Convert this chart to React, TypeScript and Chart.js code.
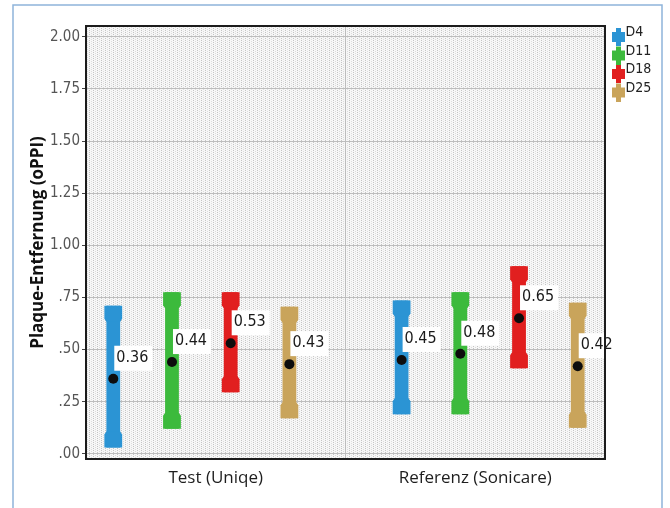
import React, { useEffect, useRef } from 'react';
import { Chart, registerables } from 'chart.js';

Chart.register(...registerables);

const categories = ['Test (Uniqe)', 'Referenz (Sonicare)'];
const seriesNames = ['D4', 'D11', 'D18', 'D25'];
const seriesColors = ['#2b94d4', '#3cba3c', '#e11f1f', '#c9a45b'];

const lowD4 = [0.03, 0.19];
const highD4 = [0.71, 0.735];
const meanD4 = [0.36, 0.45];
const lowD11 = [0.12, 0.19];
const highD11 = [0.775, 0.775];
const meanD11 = [0.44, 0.48];
const lowD18 = [0.295, 0.41];
const highD18 = [0.775, 0.9];
const meanD18 = [0.53, 0.65];
const lowD25 = [0.17, 0.125];
const highD25 = [0.705, 0.725];
const meanD25 = [0.43, 0.42];

const yTicks = [0, 0.25, 0.5, 0.75, 1, 1.25, 1.5, 1.75, 2];
const yTitle = 'Plaque-Entfernung (oPPI)';

const lows = [lowD4, lowD11, lowD18, lowD25];
const highs = [highD4, highD11, highD18, highD25];
const means = [meanD4, meanD11, meanD18, meanD25];

const NARROW = '"Liberation Sans Narrow", "Arial Narrow", "DejaVu Sans Condensed", "Liberation Sans", sans-serif';

function makeIcon(color: string) {
  const c = document.createElement('canvas');
  c.width = 22;
  c.height = 27;
  const g = c.getContext('2d')!;
  g.fillStyle = color;
  g.fillRect(13, 9, 5, 18);
  g.fillRect(9, 13, 13, 10);
  return c;
}

function makePattern() {
  const c = document.createElement('canvas');
  c.width = 4;
  c.height = 2;
  const g = c.getContext('2d')!;
  g.fillStyle = '#f7f7f7';
  g.fillRect(0, 0, 4, 2);
  g.fillStyle = '#c4c4c4';
  g.fillRect(1, 0, 1, 1);
  g.fillStyle = '#dcdcdc';
  g.fillRect(3, 1, 1, 1);
  return c;
}

export default function App() {
  const ref = useRef<HTMLCanvasElement | null>(null);

  useEffect(() => {
    if (!ref.current) return;
    const icons = seriesColors.map(makeIcon);
    const patCanvas = makePattern();

    const decorPlugin = {
      id: 'decor',
      beforeDraw(chart: any) {
        const { ctx, chartArea: a } = chart;
        ctx.save();
        ctx.fillStyle = '#ffffff';
        ctx.fillRect(0, 0, chart.width, chart.height);
        const pat = ctx.createPattern(patCanvas, 'repeat');
        if (pat) {
          ctx.fillStyle = pat;
          ctx.fillRect(a.left, a.top, a.right - a.left, a.bottom - a.top);
        }
        ctx.restore();
      },
      afterDatasetsDraw(chart: any) {
        const { ctx } = chart;
        const yScale = chart.scales.y;
        ctx.save();
        chart.data.datasets.forEach((ds: any, i: number) => {
          const meta = chart.getDatasetMeta(i);
          meta.data.forEach((bar: any) => {
            const { x, y, base, width } = bar.getProps(['x', 'y', 'base', 'width'], true);
            const top = Math.min(y, base);
            const bot = Math.max(y, base);
            const cw = width + 4;
            const ch = 13;
            const tp = 3;
            ctx.fillStyle = ds.backgroundColor;
            ctx.beginPath();
            ctx.moveTo(x - cw / 2, top);
            ctx.lineTo(x + cw / 2, top);
            ctx.lineTo(x + cw / 2, top + ch);
            ctx.lineTo(x + width / 2, top + ch + tp);
            ctx.lineTo(x - width / 2, top + ch + tp);
            ctx.lineTo(x - cw / 2, top + ch);
            ctx.closePath();
            ctx.fill();
            ctx.beginPath();
            ctx.moveTo(x - cw / 2, bot);
            ctx.lineTo(x + cw / 2, bot);
            ctx.lineTo(x + cw / 2, bot - ch);
            ctx.lineTo(x + width / 2, bot - ch - tp);
            ctx.lineTo(x - width / 2, bot - ch - tp);
            ctx.lineTo(x - cw / 2, bot - ch);
            ctx.closePath();
            ctx.fill();
          });
        });
        ctx.font = '16px ' + NARROW;
        ctx.textBaseline = 'middle';
        ctx.textAlign = 'left';
        chart.data.datasets.forEach((ds: any, i: number) => {
          const meta = chart.getDatasetMeta(i);
          meta.data.forEach((bar: any, j: number) => {
            const m = ds.means[j];
            const x = bar.x;
            const dy = yScale.getPixelForValue(m);
            const txt = m.toFixed(2);
            const tw = ctx.measureText(txt).width;
            const ty = dy - 21;
            ctx.fillStyle = '#ffffff';
            ctx.fillRect(x + 1, ty - 12, tw + 6, 25);
            ctx.fillStyle = '#1a1a1a';
            ctx.fillText(txt, x + 3, ty);
            ctx.beginPath();
            ctx.arc(x, dy, 5, 0, Math.PI * 2);
            ctx.fillStyle = '#0d0d0d';
            ctx.fill();
          });
        });
        ctx.restore();
      },
      afterDraw(chart: any) {
        const { ctx, chartArea: a } = chart;
        ctx.save();
        ctx.strokeStyle = '#1c1c1c';
        ctx.lineWidth = 2;
        ctx.strokeRect(a.left, a.top, a.right - a.left, a.bottom - a.top);
        ctx.strokeStyle = '#8fb4da';
        ctx.lineWidth = 1.5;
        ctx.beginPath();
        ctx.moveTo(13, chart.height);
        ctx.lineTo(13, 5);
        ctx.lineTo(662, 5);
        ctx.lineTo(662, chart.height);
        ctx.stroke();
        ctx.restore();
      },
    };

    const datasets = seriesNames.map((name, s) => ({
      label: name,
      data: categories.map((_, c) => ({ x: c, y: [lows[s][c], highs[s][c]] })),
      means: means[s],
      backgroundColor: seriesColors[s],
      borderWidth: 0,
      xAxisID: 'xb',
      yAxisID: 'y',
      categoryPercentage: 0.8144,
      barPercentage: 0.235,
    }));

    const chart = new Chart(ref.current, {
      type: 'bar',
      data: { labels: categories, datasets: datasets as any },
      options: {
        responsive: false,
        animation: false,
        layout: { padding: { left: 14, top: 21, right: 15, bottom: 9 } },
        scales: {
          x: {
            type: 'category',
            position: 'bottom',
            offset: true,
            grid: { offset: true, color: '#bdbdbd', lineWidth: 1, drawTicks: false },
            border: { display: false },
            ticks: { color: '#1e1e1e', font: { family: '"Open Sans", sans-serif', size: 17 }, padding: 9 },
            afterFit: (s: any) => { s.height = 40; },
          },
          xb: {
            type: 'linear',
            axis: 'x',
            position: 'bottom',
            display: false,
            offset: false,
            min: -0.4,
            max: 1.4,
            afterBuildTicks: (s: any) => { s.ticks = categories.map((_, i) => ({ value: i })); },
          },
          y: {
            type: 'linear',
            position: 'left',
            min: -0.025,
            max: 2.052,
            afterBuildTicks: (s: any) => { s.ticks = yTicks.map((v) => ({ value: v })); },
            grid: { color: '#bdbdbd', lineWidth: 1, tickLength: 4, tickColor: '#444' },
            border: { display: false },
            ticks: {
              color: '#555',
              padding: 2,
              font: { family: NARROW, size: 15 },
              callback: (v: any) => {
                const n = Number(v);
                const t = n.toFixed(2);
                return n < 1 ? t.replace(/^0/, '') : t;
              },
            },
            title: {
              display: true,
              text: yTitle,
              color: '#111',
              font: { family: '"Open Sans", sans-serif', size: 17, weight: 'bold' },
              padding: { top: 14, bottom: 0 },
            },
            afterFit: (s: any) => { s.width = 72; },
          },
        },
        plugins: {
          title: { display: true, text: '', fullSize: false, padding: 0, font: { size: 5, lineHeight: 1 } },
          tooltip: { enabled: false },
          legend: {
            position: 'right',
            align: 'start',
            maxWidth: 50,
            labels: {
              usePointStyle: true,
              boxWidth: 9,
              padding: 4.5,
              color: '#222',
              font: { family: NARROW, size: 14 },
              generateLabels: (ch: any) =>
                ch.data.datasets.map((ds: any, i: number) => ({
                  text: ds.label,
                  pointStyle: icons[i],
                  fillStyle: ds.backgroundColor,
                  strokeStyle: ds.backgroundColor,
                  lineWidth: 0,
                  hidden: false,
                  datasetIndex: i,
                  fontColor: '#222',
                })),
            },
          },
        },
      } as any,
      plugins: [decorPlugin],
    });
    return () => chart.destroy();
  }, []);

  return (
    <div style={{ position: 'absolute', left: 0, top: 0, width: 670, height: 508 }}>
      <canvas ref={ref} width={670} height={508} style={{ display: 'block' }} />
    </div>
  );
}
